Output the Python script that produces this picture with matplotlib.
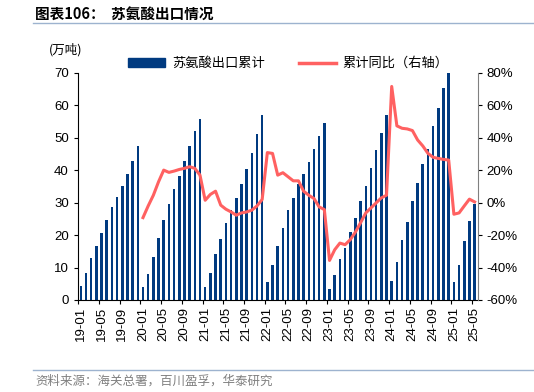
import numpy as np
import matplotlib.pyplot as plt
from matplotlib.lines import Line2D
from matplotlib.patches import Patch

plt.rcParams['font.family'] = ['Liberation Sans', 'Noto Sans CJK SC', 'DejaVu Sans']
cjk = ['Noto Sans CJK SC', 'DejaVu Sans']

# month labels 19-01 .. 25-05
months = [f'{y:02d}-{m:02d}' for y in range(19, 26) for m in range(1, 13)][:77]

# cumulative export volume (10k tonnes)
export_cum = [
    4.4, 8.3, 12.8, 16.8, 20.6, 24.8, 28.6, 31.9, 35.3, 39.0, 42.9, 47.6,   # 2019
    4.0, 8.0, 13.4, 19.2, 24.8, 29.5, 34.3, 38.3, 42.8, 47.5, 52.0, 55.7,   # 2020
    4.0, 8.4, 14.3, 18.7, 23.6, 27.7, 31.4, 35.9, 40.4, 45.2, 51.2, 57.0,   # 2021
    5.4, 10.9, 16.8, 22.3, 27.6, 31.6, 35.7, 39.0, 42.7, 46.7, 50.6, 54.7,  # 2022
    3.3, 7.7, 12.6, 16.1, 20.9, 25.3, 30.4, 35.3, 40.7, 46.2, 51.6, 57.0,   # 2023
    6.0, 11.6, 18.4, 23.9, 30.4, 36.2, 42.0, 46.7, 53.5, 59.2, 65.5, 70.3,  # 2024
    5.7, 10.8, 18.3, 24.5, 29.7,                                            # 2025
]

# cumulative YoY (%), starts 20-01
yoy = [
    -9.2, -2.0, 4.6, 12.9, 20.1, 18.7, 19.5, 20.5, 21.2, 22.2, 21.2, 17.0,   # 2020
    1.5, 5.1, 7.1, -1.5, -4.0, -5.7, -7.7, -6.3, -5.7, -4.6, -2.0, 2.0,      # 2021
    30.9, 30.4, 17.0, 18.5, 16.0, 13.5, 13.5, 7.1, 4.6, 2.6, -2.6, -4.2,     # 2022
    -35.6, -29.0, -24.9, -25.9, -22.8, -18.1, -12.3, -6.3, -3.2, -0.1, 3.0, 4.6,  # 2023
    71.7, 47.4, 45.9, 45.5, 44.5, 38.7, 35.0, 30.4, 28.0, 27.3, 26.7, 26.3,  # 2024
    -7.1, -6.3, -2.0, 2.2, 0.5,                                              # 2025
]

bar_color = '#003A80'
line_color = '#FF6161'

fig = plt.figure(figsize=(5.34, 3.92), dpi=100)
ax = fig.add_axes([0.146, 0.2347, 0.7486, 0.5791])
x = np.arange(len(months))
ax.bar(x, export_cum, width=0.5, color=bar_color, zorder=2)
ax.set_xlim(-0.55, len(months) - 0.4)
ax.set_ylim(0, 70)
ax.set_yticks(range(0, 71, 10))
ax.tick_params(axis='y', labelsize=9.5, length=3, direction='out')

# tick marks at category boundaries, labels at bar centres
ax.set_xticks(np.arange(0, len(months), 4) - 0.5)
ax.set_xticklabels([])
ax.set_xticks(np.arange(0, len(months), 4), minor=True)
ax.set_xticklabels(months[::4], minor=True, rotation=90, fontsize=9.5)
ax.tick_params(axis='x', which='major', length=3, direction='out')
ax.tick_params(axis='x', which='minor', length=0, pad=5)
ax.spines['top'].set_visible(False)
ax.spines['right'].set_visible(False)

ax2 = ax.twinx()
ax2.plot(x[12:], yoy, color=line_color, lw=2.2, zorder=3)
ax2.set_ylim(-60, 80)
ax2.set_yticks(range(-60, 81, 20))
ax2.set_yticklabels([f'{v}%' for v in range(-60, 81, 20)])
ax2.tick_params(axis='y', labelsize=9.5, length=3, direction='out', colors='black')
ax2.spines['right'].set_color('#808080')
ax2.spines['top'].set_visible(False)
ax2.spines['left'].set_visible(False)
ax2.spines['bottom'].set_visible(False)

fig.text(0.092, 0.872, '(万吨)', family=cjk, fontsize=9, ha='left', va='center')

handles = [Patch(color=bar_color), Line2D([], [], color=line_color, lw=2.5)]
fig.legend(handles, ['苏氨酸出口累计', '累计同比（右轴）'], loc='center',
           bbox_to_anchor=(0.54, 0.838), ncol=2, frameon=False,
           prop={'family': cjk, 'size': 9.5}, handlelength=2.8, handleheight=0.6,
           columnspacing=2.6, handletextpad=0.5)

fig.text(0.066, 0.965, '图表106：  苏氨酸出口情况', family=cjk, fontsize=10.5,
         fontweight='bold', ha='left', va='center')
fig.add_artist(Line2D([0.062, 1.0], [0.941, 0.941], color='#9DB3CF', lw=1))
fig.add_artist(Line2D([0.062, 1.0], [0.057, 0.057], color='#9DB3CF', lw=1))
fig.text(0.066, 0.027, '资料来源：海关总署，百川盈孚，华泰研究', family=cjk,
         fontsize=9, color='#808080', ha='left', va='center')

fig.savefig('out.png', dpi=100)
